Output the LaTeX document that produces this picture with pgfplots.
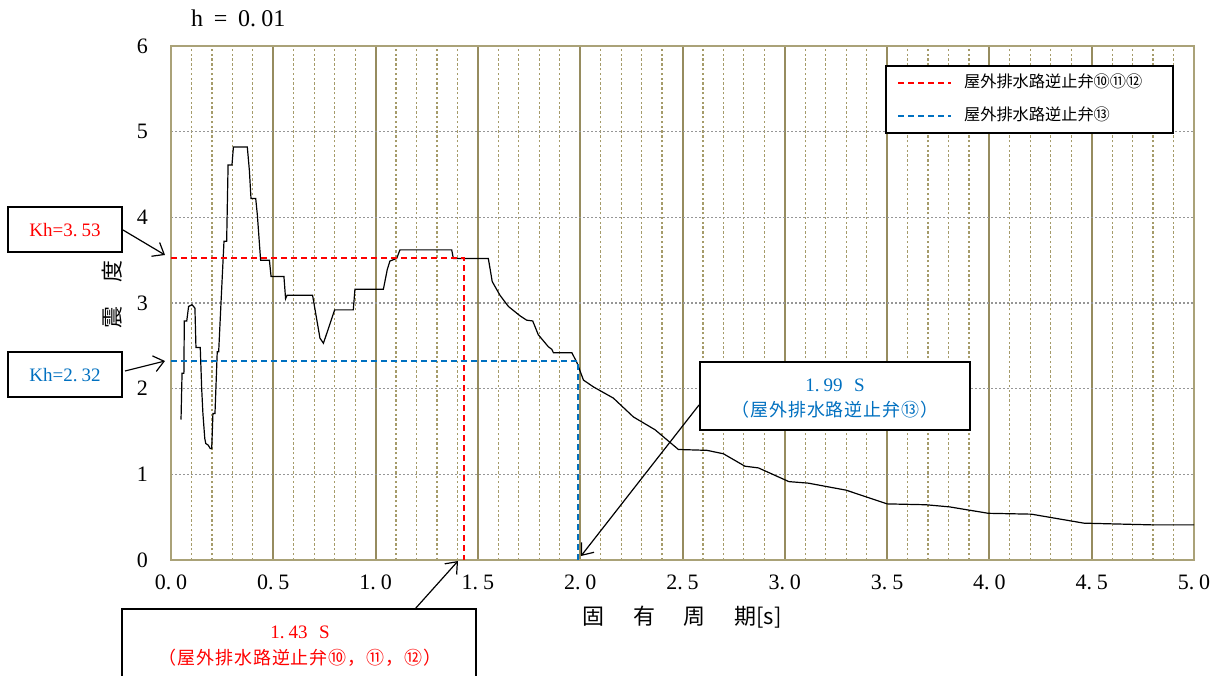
\documentclass[border=0pt]{standalone}
\usepackage{fontspec}
\setmainfont{Liberation Serif}
\newfontfamily\jp{Noto Sans CJK JP}
\newfontfamily\jpw[LetterSpace=5]{Noto Sans CJK JP}
\usepackage{pgfplots}
\pgfplotsset{compat=1.18}
\usetikzlibrary{arrows.meta}
\definecolor{kred}{RGB}{255,0,0}
\definecolor{kblue}{RGB}{0,112,192}
\definecolor{gridmaj}{RGB}{150,140,95}
\definecolor{gridmin}{RGB}{165,155,105}
\definecolor{gridh}{RGB}{150,150,150}
\definecolor{framec}{RGB}{170,162,120}
% wide decimal point, as in half-width Mincho digits
\newcommand\pd{.\kern.22em}

\begin{document}
\begin{tikzpicture}
\fill[white] (0,0) rectangle (608pt,337.5pt);
\useasboundingbox (0,0) rectangle (608pt,337.5pt);

\begin{axis}[
  at={(85.5pt,57.5pt)}, anchor=south west,
  scale only axis, width=511.5pt, height=257pt,
  xmin=0, xmax=5, ymin=0, ymax=6,
  xtick={0,0.5,1,1.5,2,2.5,3,3.5,4,4.5,5},
  xticklabels={0\pd0,0\pd5,1\pd0,1\pd5,2\pd0,2\pd5,3\pd0,3\pd5,4\pd0,4\pd5,5\pd0},
  ytick={0,1,2,3,4,5,6},
  yticklabels={0,1,2,3,4,5,6},
  minor x tick num=4,
  major tick length=0pt, minor tick length=0pt,
  xmajorgrids, xminorgrids, ymajorgrids,
  major x grid style={draw=gridmaj, line width=1pt},
  minor x grid style={draw=gridmin, line width=0.6pt, dash pattern=on 1.2pt off 1.2pt},
  major y grid style={draw=gridh, line width=0.6pt, dash pattern=on 1pt off 1pt},
  axis line style={draw=framec, line width=1pt},
  tick label style={font=\fontsize{11}{13}\selectfont},
  xticklabel style={yshift=-4pt},
  yticklabel style={xshift=-8pt},
  xlabel={\jp 固\hspace{1.3em}有\hspace{1.3em}周\hspace{1.3em}期[s]},
  ylabel={\jp 震\hspace{1.1em}度},
  xlabel style={at={(axis description cs:0.4995,-0.111)}, anchor=center, font=\fontsize{11}{13}\selectfont},
  ylabel style={at={(axis description cs:-0.0577,0.516)}, anchor=center, font=\fontsize{11}{13}\selectfont},
  legend style={at={(rel axis cs:0.9804,0.963)}, anchor=north east,
    draw=black, line width=0.8pt, fill=white,
    font=\jp\fontsize{8.1}{10}\selectfont,
    inner xsep=5.5pt, inner ysep=2.5pt, row sep=4.5pt,
    nodes={inner xsep=6pt, inner ysep=2pt, text height=6.5pt, text depth=1.5pt,
           text width=93pt, align=left}},
  legend cell align=left,
  legend image code/.code={\draw[#1] (0pt,0pt) -- (26.5pt,0pt);},
  clip=false,
]
% response spectrum, h = 0.01
\addplot[draw=black, line width=0.6pt, forget plot] coordinates {
(0.049,1.64) (0.054,2.18) (0.063,2.18) (0.065,2.79) (0.077,2.79)
(0.086,2.96) (0.103,2.98) (0.117,2.94) (0.122,2.48) (0.143,2.48)
(0.150,2.00) (0.156,1.71) (0.165,1.42) (0.170,1.36) (0.182,1.34)
(0.192,1.30) (0.199,1.30) (0.205,1.71) (0.215,1.71) (0.226,2.43)
(0.233,2.43) (0.249,3.23) (0.259,3.72) (0.272,3.72) (0.279,4.61)
(0.298,4.61) (0.305,4.82) (0.373,4.82) (0.383,4.55) (0.391,4.22)
(0.414,4.22) (0.422,4.03) (0.438,3.50) (0.481,3.50) (0.489,3.31)
(0.552,3.31) (0.560,3.05) (0.567,3.09) (0.692,3.09) (0.728,2.59)
(0.745,2.53) (0.800,2.92) (0.891,2.92) (0.899,3.16) (1.038,3.16)
(1.057,3.39) (1.070,3.49) (1.103,3.52) (1.119,3.62) (1.372,3.62)
(1.380,3.52) (1.551,3.52) (1.570,3.25) (1.608,3.09) (1.649,2.96)
(1.706,2.85) (1.738,2.80) (1.768,2.79) (1.795,2.63) (1.844,2.49)
(1.861,2.46) (1.869,2.42) (1.959,2.42) (1.983,2.31) (2.016,2.10)
(2.065,2.02) (2.162,1.89) (2.260,1.67) (2.366,1.52) (2.480,1.29)
(2.620,1.28) (2.700,1.24) (2.805,1.095) (2.871,1.075) (3.020,0.915)
(3.115,0.897) (3.300,0.815) (3.500,0.655) (3.690,0.645) (3.805,0.62)
(3.995,0.545) (4.205,0.535) (4.462,0.43) (4.795,0.41) (5.000,0.41)
};
% reference periods and seismic coefficients
\addplot[draw=kred, line width=1pt, dash pattern=on 3pt off 2pt] coordinates {(0,3.53) (1.43,3.53) (1.43,0)};
\addlegendentry{屋外排水路逆止弁⑩⑪⑫}
\addplot[draw=kblue, line width=0.8pt, dash pattern=on 3pt off 2pt] coordinates {(0,2.32) (1.99,2.32) (1.99,0)};
\addlegendentry{屋外排水路逆止弁⑬}
\end{axis}

\node[anchor=west, font=\fontsize{12}{14}\selectfont] at (92pt,328.5pt) {h\hspace{0.45em}=\hspace{0.45em}0\pd01};

% call-outs, laid out in a pixel-like grid (origin top left)
\begin{scope}[x=0.5pt, y=-0.5pt, yshift=337.5pt]
  \tikzset{callout/.style={draw=black, line width=0.8pt, fill=white},
           pointer/.style={draw=black, -{Straight Barb[length=5pt,width=8pt]}, line width=0.6pt}}
  \draw[callout] (8,207) rectangle (122,252);
  \node[text=kred, font=\fontsize{9.5}{11}\selectfont] at (65,230) {Kh=3\pd53};
  \draw[pointer] (123,230) -- (165,255);

  \draw[callout] (8,352) rectangle (122,397);
  \node[text=kblue, font=\fontsize{9.5}{11}\selectfont] at (65,375) {Kh=2\pd32};
  \draw[pointer] (125,371) -- (165,361);

  \draw[callout] (700,362) rectangle (970,430);
  \node[text=kblue, font=\fontsize{9.5}{11}\selectfont] at (835,385) {1\pd99\hspace{0.6em}S};
  \node[text=kblue, font=\jpw\fontsize{9}{10}\selectfont] at (835,410) {（屋外排水路逆止弁⑬）};
  \draw[pointer] (699,405) -- (581,556);

  \draw[callout] (122,609) rectangle (476,700);
  \node[text=kred, font=\fontsize{9.5}{11}\selectfont] at (300,632) {1\pd43\hspace{0.6em}S};
  \node[text=kred, font=\jpw\fontsize{9}{10}\selectfont] at (300,658) {（屋外排水路逆止弁⑩，⑪，⑫）};
  \draw[pointer] (415,609) -- (458,561);
\end{scope}
\end{tikzpicture}
\end{document}
